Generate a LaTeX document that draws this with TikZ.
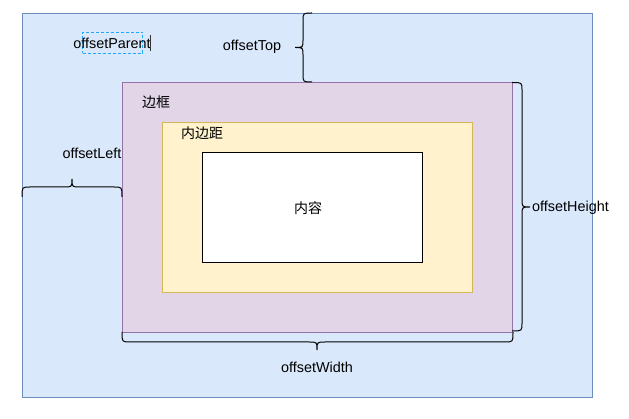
\documentclass[tikz,border=0pt]{standalone}
\usepackage{fontspec}
\setmainfont{Liberation Sans}
\newfontfamily\cjk{Noto Sans CJK SC}
\definecolor{bluefill}{HTML}{DAE8FC}
\definecolor{bluestroke}{HTML}{6C8EBF}
\definecolor{purplefill}{HTML}{E1D5E7}
\definecolor{purplestroke}{HTML}{9673A6}
\definecolor{yellowfill}{HTML}{FFF2CC}
\definecolor{yellowstroke}{HTML}{D6B656}
\definecolor{dashblue}{HTML}{1EA7FF}
\begin{document}
\begin{tikzpicture}[x=1pt,y=-1pt,
  box/.style={rectangle,inner sep=0pt,line width=0.8pt},
  lbl/.style={inner sep=0pt,font=\fontsize{14.4}{17}\selectfont},
  cjklbl/.style={inner sep=0pt,font=\fontsize{14}{17}\selectfont\cjk},
  bracestyle/.style={line width=1pt,black}]
\useasboundingbox (0,0) rectangle (629,419);
\fill[white] (0,0) rectangle (629,419);
% boxes
\node[box,draw=bluestroke,fill=bluefill,minimum width=570pt,minimum height=384pt] (outer) at (307,205) {};
\node[box,draw=purplestroke,fill=purplefill,minimum width=390pt,minimum height=250pt] (border) at (317,207) {};
\node[box,draw=yellowstroke,fill=yellowfill,minimum width=310pt,minimum height=170pt] (padding) at (317,207) {};
\node[box,draw=black,fill=white,minimum width=220pt,minimum height=110pt] (content) at (312,207) {};
% labels
\node[cjklbl] (tcontent) at (308,208) {内容};
\node[cjklbl,anchor=west] (tborder) at (142,102) {边框};
\node[cjklbl,anchor=west] (tpadding) at (181,133) {内边距};
% offsetParent
\node[box,draw=dashblue,dash pattern=on 3pt off 2pt,line width=0.8pt,minimum width=60pt,minimum height=21pt] (pbox) at (112.5,42.5) {};
\node[lbl] (tparent) at (112,43) {offsetParent};
\coordinate (cur1) at (150,35);
\coordinate (cur2) at (150,51);
\draw[line width=1pt,black!80] (cur1) -- (cur2);
% offsetTop brace
\draw[bracestyle] (312,13) .. controls (303,13) .. (303,21) -- (303,40) .. controls (303,47.5) .. (295,47.5) .. controls (303,47.5) .. (303,55) -- (303,74) .. controls (303,82) .. (312,82);
\node[lbl] (ttop) at (252,47) {offsetTop};
% offsetLeft brace
\draw[bracestyle] (22,197) .. controls (22,187) .. (30,187) -- (64,187) .. controls (72,187) .. (72,179) .. controls (72,187) .. (80,187) -- (114,187) .. controls (122,187) .. (122,197);
\node[lbl] (tleft) at (92,153) {offsetLeft};
% offsetHeight brace
\draw[bracestyle] (512,82.5) .. controls (522,82.5) .. (522,90) -- (522,199) .. controls (522,207) .. (530,207) .. controls (522,207) .. (522,215) -- (522,323) .. controls (522,331) .. (512,331);
\node[lbl,anchor=west] (theight) at (532,208) {offsetHeight};
% offsetWidth brace
\draw[bracestyle] (122,332) .. controls (122,342) .. (130,342) -- (309,342) .. controls (317,342) .. (317,350) .. controls (317,342) .. (325,342) -- (505,342) .. controls (513,342) .. (513,332);
\node[lbl] (twidth) at (317,367) {offsetWidth};
\end{tikzpicture}
\end{document}
